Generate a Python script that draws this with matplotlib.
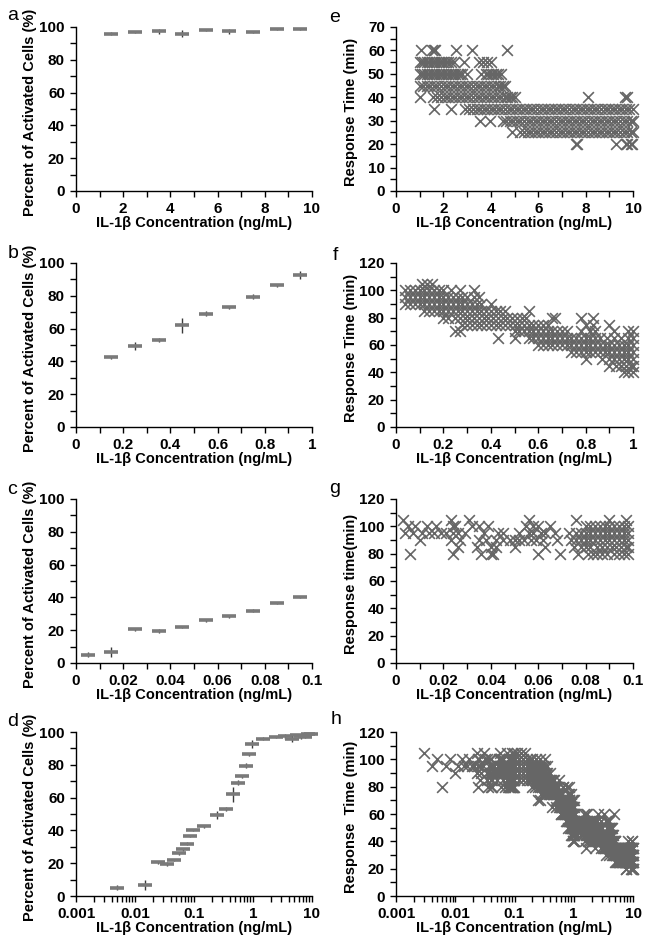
import numpy as np
import matplotlib
matplotlib.use("Agg")
import matplotlib.pyplot as plt
from matplotlib.ticker import MultipleLocator, LogLocator, FuncFormatter, NullFormatter

plt.rcParams['font.family'] = ['Liberation Sans', 'DejaVu Sans']
plt.rcParams['font.weight'] = 'bold'

# ---------------- data: activation percentage ----------------
a_x = [1.5, 2.5, 3.5, 4.5, 5.5, 6.5, 7.5, 8.5, 9.5]
a_y = [96, 97, 97.5, 96, 98, 97.5, 97, 98.5, 98.5]
a_err = [1.0, 0.5, 1.5, 2.0, 0.5, 1.5, 0.5, 0.3, 0.3]

b_x = [0.15, 0.25, 0.35, 0.45, 0.55, 0.65, 0.75, 0.85, 0.95]
b_y = [42.5, 49.5, 53, 62, 69, 73, 79.5, 86.5, 92.5]
b_err = [1.0, 2.5, 1.0, 4.5, 1.5, 1.0, 1.5, 1.0, 2.5]

c_x = [0.005, 0.015, 0.025, 0.035, 0.045, 0.055, 0.065, 0.075, 0.085, 0.095]
c_y = [5, 6.5, 20.5, 19.5, 22, 26, 28.5, 32, 36.5, 40]
c_err = [1.5, 3.0, 1.0, 1.0, 0.5, 1.0, 1.0, 1.0, 0.5, 0.3]

# ---------------- data: response times (x values per response-time level) ----------------
e_levels = [20, 25, 30, 35, 40, 45, 50, 55, 60]
e_x = [
    [7.6, 7.65, 9.3, 9.7, 9.75, 9.9, 9.95],
    [4.9, 5.25, 5.4, 5.55, 5.7, 5.85, 6.0, 6.15, 6.3, 6.45, 6.6, 6.75, 6.9, 7.05, 7.2, 7.35, 7.5,
     7.65, 7.8, 7.95, 8.1, 8.25, 8.4, 8.55, 8.7, 8.85, 9.0, 9.15, 9.3, 9.45, 9.6, 9.75, 9.9, 10.0],
    [3.55, 3.95, 4.5, 4.65, 4.8, 4.95, 5.1, 5.25, 5.4, 5.55, 5.7, 5.85, 6.0, 6.15, 6.3, 6.45, 6.6,
     6.75, 6.9, 7.05, 7.2, 7.35, 7.5, 7.65, 7.8, 7.95, 8.1, 8.25, 8.4, 8.55, 8.7, 8.85, 9.0, 9.15,
     9.3, 9.45, 9.6, 9.75, 9.9, 10.0],
    [1.6, 2.3, 2.9, 3.1, 3.25, 3.4, 3.55, 3.7, 3.85, 4.0, 4.15, 4.3, 4.45, 4.6, 4.75, 4.9, 5.05,
     5.2, 5.35, 5.5, 5.65, 5.8, 5.95, 6.1, 6.25, 6.4, 6.55, 6.7, 6.85, 7.0, 7.15, 7.3, 7.45, 7.6,
     7.75, 7.9, 8.05, 8.2, 8.35, 8.5, 8.65, 8.8, 8.95, 9.1, 9.25, 9.4, 9.55, 9.7, 9.85, 10.0],
    [1.0, 1.55, 1.75, 1.9, 2.05, 2.2, 2.35, 2.5, 2.65, 2.8, 2.95, 3.1, 3.25, 3.4, 3.55, 3.7, 3.85,
     4.0, 4.15, 4.3, 4.45, 4.6, 4.7, 4.8, 4.9, 5.0, 8.1, 9.65, 9.75],
    [1.0, 1.15, 1.3, 1.45, 1.6, 1.75, 1.9, 2.05, 2.2, 2.35, 2.5, 2.65, 2.8, 2.95, 3.1, 3.25, 3.4,
     3.55, 3.7, 3.85, 4.0, 4.15, 4.3, 4.4, 4.5, 4.6],
    [1.0, 1.1, 1.2, 1.3, 1.4, 1.5, 1.6, 1.7, 1.8, 1.9, 2.0, 2.1, 2.2, 2.3, 2.4, 2.5, 2.6, 2.7, 2.8,
     2.98, 3.6, 3.8, 3.9, 4.0, 4.1, 4.2, 4.3, 4.45],
    [1.0, 1.1, 1.2, 1.3, 1.4, 1.5, 1.6, 1.7, 1.8, 1.9, 2.0, 2.1, 2.2, 2.3, 2.45, 2.85, 3.5, 3.65,
     3.85, 4.0],
    [1.05, 1.5, 1.6, 1.65, 2.55, 3.2, 4.7],
]

f_levels = [40, 45, 50, 55, 60, 65, 70, 75, 80, 85, 90, 95, 100, 105]
f_x = [
    [0.96, 0.98, 1.0],
    [0.90, 0.93, 0.95, 0.97, 0.99, 1.0],
    [0.80, 0.87, 0.90, 0.92, 0.94, 0.96, 0.98, 1.0],
    [0.74, 0.76, 0.78, 0.80, 0.82, 0.84, 0.86, 0.88, 0.90, 0.92, 0.94, 0.96, 0.98, 1.0],
    [0.60, 0.62, 0.64, 0.66, 0.68, 0.70, 0.72, 0.74, 0.76, 0.78, 0.80, 0.82, 0.84, 0.86, 0.88,
     0.90, 0.92, 0.94, 0.96, 0.98, 1.0],
    [0.43, 0.50, 0.56, 0.58, 0.60, 0.62, 0.64, 0.66, 0.68, 0.70, 0.72, 0.74, 0.76, 0.78, 0.80,
     0.82, 0.84, 0.86, 0.89, 0.92, 0.95, 0.98, 1.0],
    [0.25, 0.27, 0.50, 0.52, 0.54, 0.56, 0.58, 0.60, 0.62, 0.64, 0.66, 0.68, 0.70, 0.72, 0.78,
     0.82, 0.84, 0.92, 0.98, 1.0],
    [0.28, 0.30, 0.32, 0.34, 0.36, 0.38, 0.40, 0.42, 0.44, 0.46, 0.48, 0.50, 0.52, 0.54, 0.56,
     0.58, 0.60, 0.62, 0.64, 0.80, 0.83, 0.90],
    [0.20, 0.22, 0.25, 0.27, 0.29, 0.31, 0.33, 0.35, 0.37, 0.39, 0.41, 0.43, 0.45, 0.47, 0.49,
     0.51, 0.53, 0.55, 0.66, 0.67, 0.78, 0.83],
    [0.12, 0.14, 0.16, 0.18, 0.20, 0.22, 0.24, 0.26, 0.28, 0.30, 0.32, 0.34, 0.36, 0.38, 0.40,
     0.42, 0.44, 0.46, 0.56],
    [0.04, 0.06, 0.08, 0.10, 0.12, 0.14, 0.16, 0.18, 0.20, 0.22, 0.24, 0.26, 0.28, 0.30, 0.32,
     0.34, 0.36, 0.40],
    [0.04, 0.06, 0.08, 0.10, 0.12, 0.14, 0.16, 0.18, 0.20, 0.22, 0.24, 0.26, 0.28, 0.30, 0.33,
     0.35],
    [0.04, 0.06, 0.08, 0.10, 0.12, 0.14, 0.16, 0.18, 0.20, 0.23, 0.27, 0.33],
    [0.11, 0.13, 0.15],
]

g_levels = [80, 85, 90, 95, 100, 105]
g_x = [
    [0.006, 0.024, 0.036, 0.040, 0.041, 0.060, 0.069, 0.077, 0.081, 0.083, 0.085, 0.087, 0.089,
     0.092, 0.094, 0.096, 0.098],
    [0.026, 0.034, 0.040, 0.042, 0.050, 0.063, 0.075, 0.078, 0.080, 0.082, 0.085, 0.087, 0.089,
     0.091, 0.093, 0.095, 0.097, 0.098],
    [0.010, 0.023, 0.027, 0.035, 0.038, 0.042, 0.045, 0.048, 0.050, 0.052, 0.054, 0.057, 0.059,
     0.062, 0.068, 0.074, 0.076, 0.078, 0.080, 0.082, 0.084, 0.086, 0.088, 0.090, 0.092, 0.094,
     0.096, 0.098],
    [0.004, 0.007, 0.011, 0.014, 0.016, 0.019, 0.021, 0.024, 0.026, 0.029, 0.037, 0.043, 0.045,
     0.052, 0.056, 0.058, 0.061, 0.063, 0.067, 0.073, 0.076, 0.078, 0.080, 0.082, 0.084, 0.086,
     0.088, 0.090, 0.092, 0.094, 0.096, 0.098],
    [0.005, 0.008, 0.013, 0.017, 0.024, 0.025, 0.032, 0.035, 0.039, 0.055, 0.058, 0.060, 0.065,
     0.080, 0.082, 0.084, 0.086, 0.088, 0.090, 0.092, 0.094, 0.096, 0.098],
    [0.003, 0.023, 0.031, 0.056, 0.076, 0.090, 0.097],
]

xlabel_text = "IL-1β Concentration (ng/mL)"
ylabel_pct = "Percent of Activated Cells (%)"

# ---------------- helpers ----------------
def flatten(levels, xs):
    X, Y = [], []
    for lv, row in zip(levels, xs):
        X.extend(row)
        Y.extend([lv] * len(row))
    return np.array(X), np.array(Y)

ex, ey = flatten(e_levels, e_x)
fx, fy = flatten(f_levels, f_x)
gx, gy = flatten(g_levels, g_x)

fig = plt.figure(figsize=(6.5, 9.48), dpi=100)

W = 650.0
H = 948.0
lefts = [76 / W, 396 / W]
widths = [236 / W, 237 / W]
bottoms_px = [191, 427, 663, 896]
height = 164 / H

TFS = 11
XFS = 10.5
YFS = 10.5

def style(ax):
    for s in ['top', 'right']:
        ax.spines[s].set_visible(False)
    for s in ['left', 'bottom']:
        ax.spines[s].set_linewidth(1.0)
        ax.spines[s].set_color('black')
    ax.tick_params(which='both', direction='out', length=4, width=1, labelsize=TFS, pad=4)
    for lab in ax.get_xticklabels() + ax.get_yticklabels():
        lab.set_fontweight('bold')

def make_ax(col, row):
    b = 1 - bottoms_px[row] / H
    return fig.add_axes([lefts[col], b, widths[col], height])

def plain_log(v, pos):
    if v >= 1:
        return "%d" % round(v)
    return ("%.3f" % v).rstrip('0')

def errplot(ax, x, y, err):
    ax.errorbar(x, y, yerr=err, fmt='none', ecolor='#3a3a3a', elinewidth=1.0, capsize=0,
                clip_on=False, zorder=3)
    ax.plot(x, y, linestyle='none', marker='_', markersize=10, markeredgewidth=2.6,
            color='#7a7a7a', clip_on=False, zorder=4)

def scat(ax, x, y):
    ax.scatter(x, y, marker='x', s=60, linewidths=1.2, color='#666666',
               clip_on=False, zorder=3)

def setlabels(ax, ylab, col):
    ax.set_xlabel(xlabel_text, fontsize=XFS, fontweight='bold')
    ax.set_ylabel(ylab, fontsize=YFS, fontweight='bold')
    ax.xaxis.set_label_coords(0.5, -0.155)
    ax.yaxis.set_label_coords(-0.165 if col == 0 else -0.162, 0.48)

# ---- panel a ----
ax = make_ax(0, 0)
errplot(ax, a_x, a_y, a_err)
ax.set_xlim(0, 10); ax.set_ylim(0, 100)
ax.xaxis.set_major_locator(MultipleLocator(2)); ax.xaxis.set_minor_locator(MultipleLocator(1))
ax.yaxis.set_major_locator(MultipleLocator(20)); ax.yaxis.set_minor_locator(MultipleLocator(10))
setlabels(ax, ylabel_pct, 0); style(ax)

# ---- panel b ----
ax = make_ax(0, 1)
errplot(ax, b_x, b_y, b_err)
ax.set_xlim(0, 1); ax.set_ylim(0, 100)
ax.xaxis.set_major_locator(MultipleLocator(0.2)); ax.xaxis.set_minor_locator(MultipleLocator(0.1))
ax.xaxis.set_major_formatter(FuncFormatter(lambda v, p: "%g" % round(v, 2)))
ax.yaxis.set_major_locator(MultipleLocator(20)); ax.yaxis.set_minor_locator(MultipleLocator(10))
setlabels(ax, ylabel_pct, 0); style(ax)

# ---- panel c ----
ax = make_ax(0, 2)
errplot(ax, c_x, c_y, c_err)
ax.set_xlim(0, 0.1); ax.set_ylim(0, 100)
ax.xaxis.set_major_locator(MultipleLocator(0.02)); ax.xaxis.set_minor_locator(MultipleLocator(0.01))
ax.xaxis.set_major_formatter(FuncFormatter(lambda v, p: "%g" % round(v, 3)))
ax.yaxis.set_major_locator(MultipleLocator(20)); ax.yaxis.set_minor_locator(MultipleLocator(10))
setlabels(ax, ylabel_pct, 0); style(ax)

# ---- panel d ----
ax = make_ax(0, 3)
errplot(ax, c_x + b_x + a_x, c_y + b_y + a_y, c_err + b_err + a_err)
ax.set_xscale('log')
ax.set_xlim(0.001, 10); ax.set_ylim(0, 100)
ax.xaxis.set_major_locator(LogLocator(base=10))
ax.xaxis.set_minor_locator(LogLocator(base=10, subs=np.arange(2, 10)))
ax.xaxis.set_major_formatter(FuncFormatter(plain_log))
ax.xaxis.set_minor_formatter(NullFormatter())
ax.yaxis.set_major_locator(MultipleLocator(20)); ax.yaxis.set_minor_locator(MultipleLocator(10))
setlabels(ax, ylabel_pct, 0); style(ax)

# ---- panel e ----
ax = make_ax(1, 0)
scat(ax, ex, ey)
ax.set_xlim(0, 10); ax.set_ylim(0, 70)
ax.xaxis.set_major_locator(MultipleLocator(2)); ax.xaxis.set_minor_locator(MultipleLocator(1))
ax.yaxis.set_major_locator(MultipleLocator(10)); ax.yaxis.set_minor_locator(MultipleLocator(5))
setlabels(ax, "Response Time (min)", 1); style(ax)

# ---- panel f ----
ax = make_ax(1, 1)
scat(ax, fx, fy)
ax.set_xlim(0, 1); ax.set_ylim(0, 120)
ax.xaxis.set_major_locator(MultipleLocator(0.2)); ax.xaxis.set_minor_locator(MultipleLocator(0.1))
ax.xaxis.set_major_formatter(FuncFormatter(lambda v, p: "%g" % round(v, 2)))
ax.yaxis.set_major_locator(MultipleLocator(20)); ax.yaxis.set_minor_locator(MultipleLocator(10))
setlabels(ax, "Response Time (min)", 1); style(ax)

# ---- panel g ----
ax = make_ax(1, 2)
scat(ax, gx, gy)
ax.set_xlim(0, 0.1); ax.set_ylim(0, 120)
ax.xaxis.set_major_locator(MultipleLocator(0.02)); ax.xaxis.set_minor_locator(MultipleLocator(0.01))
ax.xaxis.set_major_formatter(FuncFormatter(lambda v, p: "%g" % round(v, 3)))
ax.yaxis.set_major_locator(MultipleLocator(20)); ax.yaxis.set_minor_locator(MultipleLocator(10))
setlabels(ax, "Response time(min)", 1); style(ax)

# ---- panel h ----
ax = make_ax(1, 3)
scat(ax, np.concatenate([gx, fx, ex]), np.concatenate([gy, fy, ey]))
ax.set_xscale('log')
ax.set_xlim(0.001, 10); ax.set_ylim(0, 120)
ax.xaxis.set_major_locator(LogLocator(base=10))
ax.xaxis.set_minor_locator(LogLocator(base=10, subs=np.arange(2, 10)))
ax.xaxis.set_major_formatter(FuncFormatter(plain_log))
ax.xaxis.set_minor_formatter(NullFormatter())
ax.yaxis.set_major_locator(MultipleLocator(20)); ax.yaxis.set_minor_locator(MultipleLocator(10))
setlabels(ax, "Response  Time (min)", 1); style(ax)

# ---- panel letters ----
letters = [("a", 13, 15), ("b", 13, 253), ("c", 12, 490), ("d", 13, 722),
           ("e", 335, 17), ("f", 335, 255), ("g", 335, 488), ("h", 336, 720)]
for t, px, py in letters:
    fig.text(px / W, 1 - py / H, t, fontsize=14, fontweight='normal', ha='center', va='center')

fig.savefig("out.png", dpi=100)
